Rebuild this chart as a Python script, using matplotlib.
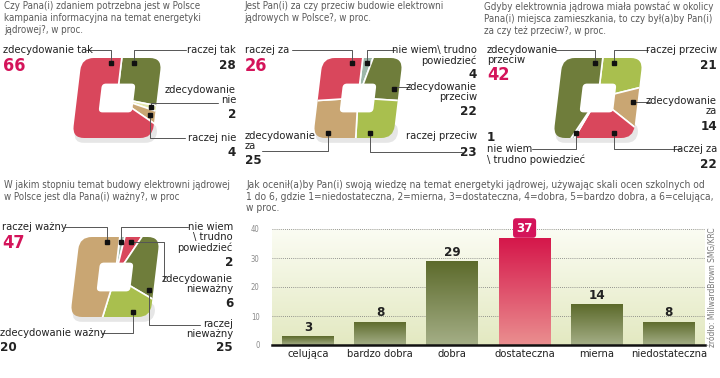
import numpy as np
import matplotlib
matplotlib.use('Agg')
import matplotlib.pyplot as plt
from matplotlib.patches import FancyBboxPatch
from matplotlib.transforms import Affine2D
from matplotlib.colors import LinearSegmentedColormap

W, H = 720, 378
plt.rcParams['font.family'] = ['DejaVu Sans']
plt.rcParams['font.stretch'] = 'condensed'

# data (slices clockwise from the top)
q1_labels = ['raczej tak', 'zdecydowanie nie', 'raczej nie', 'zdecydowanie tak']
q1_values = [28, 2, 4, 66]
q2_labels = ['nie wiem\\ trudno powiedzieć', 'zdecydowanie przeciw', 'raczej przeciw',
             'zdecydowanie za', 'raczej za']
q2_values = [4, 22, 23, 25, 26]
q3_labels = ['raczej przeciw', 'zdecydowanie za', 'raczej za',
             'nie wiem \\ trudno powiedzieć', 'zdecydowanie przeciw']
q3_values = [21, 14, 22, 1, 42]
q4_labels = ['nie wiem \\ trudno powiedzieć', 'zdecydowanie nieważny', 'raczej nieważny',
             'zdecydowanie ważny', 'raczej ważny']
q4_values = [2, 6, 25, 20, 47]
grades = ['celująca', 'bardzo dobra', 'dobra', 'dostateczna', 'mierna', 'niedostateczna']
grade_values = [3, 8, 29, 37, 14, 8]

RED = '#d9475c'
OLIVE = '#6f7d3b'
LGREEN = '#a9bf4e'
TAN = '#c9a673'
PALE = '#e4e8ae'
GREYGREEN = '#9db7a9'
NUMRED = '#d4145a'
GREY = '#5a5a5a'

q1_colors = [OLIVE, PALE, TAN, RED]
q2_colors = [GREYGREEN, OLIVE, LGREEN, TAN, RED]
q3_colors = [LGREEN, TAN, RED, GREYGREEN, OLIVE]
q4_colors = [GREYGREEN, RED, OLIVE, LGREEN, TAN]

fig = plt.figure(figsize=(7.2, 3.78), dpi=100)


def fx(x):
    return x / W


def fy(y):
    return 1 - y / H


def txt(x, y, s, size=8, color='#222222', ha='left', weight='normal', ls=1.05, **kw):
    fig.text(fx(x), fy(y), s, ha=ha, va='top', fontsize=size, color=color,
             fontweight=weight, linespacing=ls, **kw)


def donut(cx, cy, values, colors, skew=0.12):
    half = 52
    ax = fig.add_axes([fx(cx - half), fy(cy + half), 2 * half / W, 2 * half / H])
    tr = Affine2D().skew(np.arctan(skew), 0) + ax.transData
    shadow = FancyBboxPatch((-0.95, -1.12), 2.05, 0.5, boxstyle='round,pad=0,rounding_size=0.25',
                            fc='#e6e6e6', ec='none', transform=tr, zorder=0)
    ax.add_patch(shadow)
    wedges, _ = ax.pie(values, colors=colors, startangle=90, counterclock=False, radius=1.6,
                       wedgeprops=dict(lw=1.2, ec='white'))
    clip = FancyBboxPatch((-1, -1), 2, 2, boxstyle='round,pad=0,rounding_size=0.3',
                          fc='none', ec='none', transform=tr)
    for w in wedges:
        w.set_transform(tr)
        w.set_clip_path(clip)
        w.set_clip_on(True)
        w.set_zorder(1)
    hole = FancyBboxPatch((-0.42, -0.36), 0.84, 0.72, boxstyle='round,pad=0,rounding_size=0.1',
                          fc='white', ec='none', transform=tr, zorder=2)
    ax.add_patch(hole)
    ax.set_xlim(-1.3, 1.3)
    ax.set_ylim(-1.3, 1.3)
    ax.set_aspect('auto')
    ax.axis('off')
    return ax


def leader(ax, values, i, t, x, y, skew=0.12, conn='angle,angleA=0,angleB=90,rad=0'):
    cum = np.cumsum([0] + list(values))
    ang = np.radians(90 - 360 * (cum[i] + t * values[i]) / cum[-1])
    c, s = np.cos(ang), np.sin(ang)
    m = max(abs(c), abs(s))
    py = 0.88 * s / m
    px = 0.88 * c / m + skew * py
    ax.annotate('', xy=(px, py), xycoords='data', xytext=(fx(x), fy(y)),
                textcoords='figure fraction', annotation_clip=False,
                arrowprops=dict(arrowstyle='-', color='#555555', lw=0.7, shrinkA=0, shrinkB=0,
                                connectionstyle=conn))
    ax.plot(px, py, 's', ms=3, color='#111111', zorder=5, clip_on=False)


BIG = 13
NUM = 9.5
TS = 7

# ---- panel 1
txt(4, 1, 'Czy Pana(i) zdaniem potrzebna jest w Polsce\nkampania informacyjna na temat energetyki\njądrowej?, w proc.',
    size=TS, color=GREY, ls=1.25)
a1 = donut(117, 98, q1_values, q1_colors)
txt(3, 45, 'zdecydowanie tak')
txt(3, 57, str(q1_values[3]), size=BIG, color=NUMRED, weight='bold')
txt(236, 45, 'raczej tak', ha='right')
txt(236, 59, str(q1_values[0]), size=NUM, weight='bold', ha='right')
txt(236, 85, 'zdecydowanie\nnie', ha='right')
txt(236, 108, str(q1_values[1]), size=NUM, weight='bold', ha='right')
txt(236, 133, 'raczej nie', ha='right')
txt(236, 146, str(q1_values[2]), size=NUM, weight='bold', ha='right')
leader(a1, q1_values, 3, 0.93, 86, 50)
leader(a1, q1_values, 0, 0.2, 186, 50)
leader(a1, q1_values, 1, 0.5, 218, 103)
leader(a1, q1_values, 2, 0.5, 185, 138)

# ---- panel 2
txt(244, 1, 'Jest Pan(i) za czy przeciw budowie elektrowni\njądrowych w Polsce?, w proc.', size=TS, color=GREY, ls=1.25)
a2 = donut(358, 98, q2_values, q2_colors)
txt(245, 45, 'raczej za')
txt(245, 57, str(q2_values[4]), size=BIG, color=NUMRED, weight='bold')
txt(477, 45, 'nie wiem\\ trudno\npowiedzieć', ha='right')
txt(477, 68, str(q2_values[0]), size=NUM, weight='bold', ha='right')
txt(477, 82, 'zdecydowanie\nprzeciw', ha='right')
txt(477, 105, str(q2_values[1]), size=NUM, weight='bold', ha='right')
txt(477, 131, 'raczej przeciw', ha='right')
txt(477, 146, str(q2_values[2]), size=NUM, weight='bold', ha='right')
txt(245, 131, 'zdecydowanie\nza')
txt(245, 154, str(q2_values[3]), size=NUM, weight='bold')
leader(a2, q2_values, 4, 0.83, 292, 50)
leader(a2, q2_values, 0, 0.5, 395, 50)
leader(a2, q2_values, 1, 0.78, 410, 87)
leader(a2, q2_values, 2, 0.74, 462, 152)
leader(a2, q2_values, 3, 0.44, 262, 151)

# ---- panel 3
txt(484, 1, 'Gdyby elektrownia jądrowa miała powstać w okolicy\nPana(i) miejsca zamieszkania, to czy był(a)by Pan(i)\nza czy też przeciw?, w proc.',
    size=TS, color=GREY, ls=1.25)
a3 = donut(598, 98, q3_values, q3_colors)
txt(487, 45, 'zdecydowanie\nprzeciw')
txt(487, 66, str(q3_values[4]), size=BIG, color=NUMRED, weight='bold')
txt(717, 45, 'raczej przeciw', ha='right')
txt(717, 59, str(q3_values[0]), size=NUM, weight='bold', ha='right')
txt(717, 96, 'zdecydowanie\nza', ha='right')
txt(717, 120, str(q3_values[1]), size=NUM, weight='bold', ha='right')
txt(717, 144, 'raczej za', ha='right')
txt(717, 158, str(q3_values[2]), size=NUM, weight='bold', ha='right')
txt(487, 131, str(q3_values[3]), size=NUM, weight='bold')
txt(487, 144, 'nie wiem\n\\ trudno powiedzieć')
leader(a3, q3_values, 4, 0.92, 555, 50)
leader(a3, q3_values, 0, 0.25, 648, 50)
leader(a3, q3_values, 1, 0.42, 650, 102)
leader(a3, q3_values, 2, 0.31, 680, 149)
leader(a3, q3_values, 3, 0.5, 532, 149)

# ---- panel 4
txt(4, 180, 'W jakim stopniu temat budowy elektrowni jądrowej\nw Polsce jest dla Pana(i) ważny?, w proc',
    size=TS, color=GREY, ls=1.25)
a4 = donut(115, 277, q4_values, q4_colors)
txt(2, 222, 'raczej ważny')
txt(2, 234, str(q4_values[4]), size=BIG, color=NUMRED, weight='bold')
txt(233, 222, 'nie wiem\n\\ trudno\npowiedzieć', ha='right')
txt(233, 256, str(q4_values[0]), size=NUM, weight='bold', ha='right')
txt(233, 274, 'zdecydowanie\nnieważny', ha='right')
txt(233, 297, str(q4_values[1]), size=NUM, weight='bold', ha='right')
txt(233, 319, 'raczej\nnieważny', ha='right')
txt(233, 341, str(q4_values[2]), size=NUM, weight='bold', ha='right')
txt(0, 328, 'zdecydowanie ważny')
txt(0, 341, str(q4_values[3]), size=NUM, weight='bold')
leader(a4, q4_values, 4, 0.89, 65, 227)
leader(a4, q4_values, 0, 0.5, 188, 227)
leader(a4, q4_values, 1, 0.5, 164, 280, conn='angle,angleA=90,angleB=0,rad=0')
leader(a4, q4_values, 2, 0.9, 200, 325)
leader(a4, q4_values, 3, 0.4, 102, 333)

# ---- bar chart
txt(246, 180, 'Jak ocenił(a)by Pan(i) swoją wiedzę na temat energetyki jądrowej, używając skali ocen szkolnych od\n'
    '1 do 6, gdzie 1=niedostateczna, 2=mierna, 3=dostateczna, 4=dobra, 5=bardzo dobra, a 6=celująca,\nw proc.',
    size=7.3, color=GREY, ls=1.2)
bx = fig.add_axes([fx(272), fy(345), 433 / W, 116 / H])
x = np.arange(len(grades))
grad = np.linspace(0, 1, 100).reshape(-1, 1)
bg_cmap = LinearSegmentedColormap.from_list('bg', ['#e3e9c1', '#fbfcf3'])
olive_cmap = LinearSegmentedColormap.from_list('ol', ['#a4ae86', '#5c6a2b'])
red_cmap = LinearSegmentedColormap.from_list('rd', ['#ea8e8f', '#d5164a'])
bx.imshow(grad, extent=(-0.5, 5.5, 0, 40), origin='lower', cmap=bg_cmap, aspect='auto', zorder=0)
bars = bx.bar(x, grade_values, width=0.72, color='none', zorder=2)
for i, b in enumerate(bars):
    cm = red_cmap if i == 3 else olive_cmap
    im = bx.imshow(grad, extent=(b.get_x(), b.get_x() + b.get_width(), 0, b.get_height()),
                   origin='lower', cmap=cm, aspect='auto', zorder=2)
    im.set_clip_path(b)
    if i == 3:
        bx.text(i, grade_values[i] + 1.1, str(grade_values[i]), ha='center', va='bottom',
                fontsize=NUM, fontweight='bold', color='white', clip_on=False,
                bbox=dict(boxstyle='round,pad=0.25,rounding_size=0.25', fc=NUMRED, ec='none'))
    else:
        bx.text(i, grade_values[i] + 0.8, str(grade_values[i]), ha='center', va='bottom',
                fontsize=NUM, fontweight='bold', color='#222222')
bx.set_xlim(-0.5, 5.5)
bx.set_ylim(0, 40)
bx.set_yticks([0, 10, 20, 30, 40])
bx.set_xticks(x)
bx.set_xticklabels(grades, fontsize=8, color='#222222')
bx.tick_params(axis='y', length=0, pad=9, labelsize=5.5, labelcolor='#8a8a8a')
bx.tick_params(axis='x', length=0, pad=3)
bx.yaxis.grid(True, ls=(0, (1, 1.5)), color='#777777', lw=0.6)
for side in ['left', 'right', 'top']:
    bx.spines[side].set_visible(False)
bx.spines['bottom'].set_linewidth(1.8)
bx.spines['bottom'].set_color('#111111')
bx.spines['bottom'].set_zorder(4)

fig.text(fx(713), fy(287), 'źródło: MillwardBrown SMG/KRC', rotation=90, ha='center', va='center',
         fontsize=6, color='#777777')

fig.savefig('out.png', dpi=100)
